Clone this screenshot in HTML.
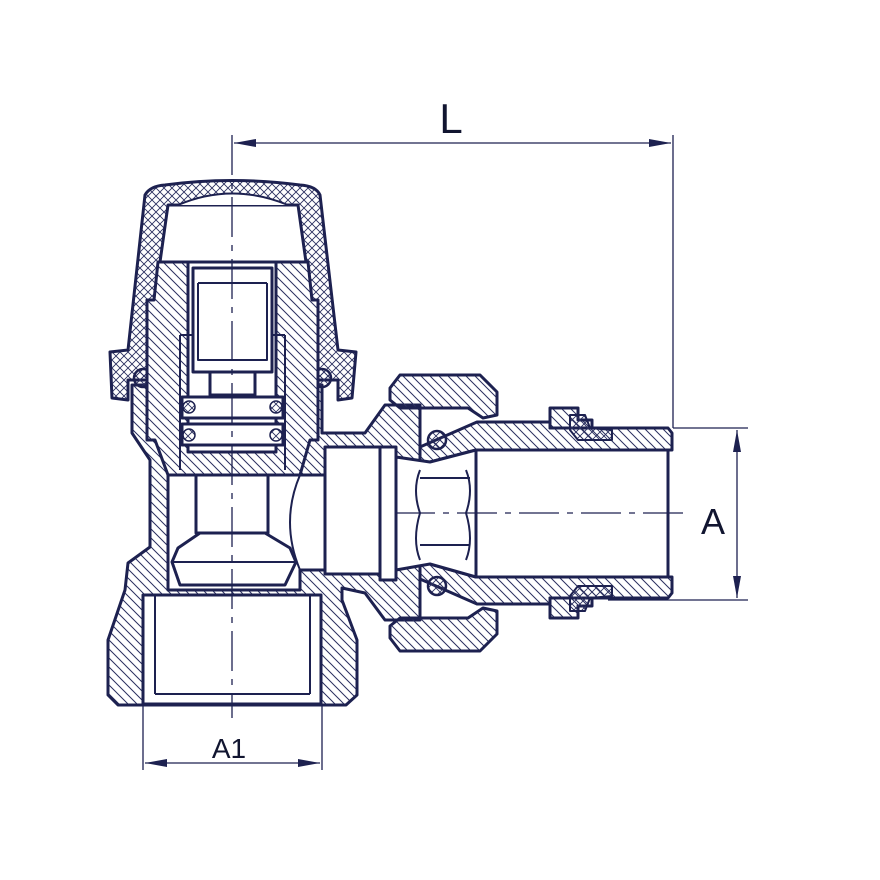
<!DOCTYPE html>
<html><head><meta charset="utf-8"><style>html,body{margin:0;padding:0;background:#fff}svg{display:block}</style></head>
<body>
<svg width="880" height="880" viewBox="0 0 880 880" xmlns="http://www.w3.org/2000/svg">
<defs>
<pattern id="h" width="9" height="9" patternUnits="userSpaceOnUse">
<path d="M-1,-1 L10,10 M-1,8 L1,10 M8,-1 L10,1" stroke="#2b3060" stroke-width="1"/>
</pattern>
<pattern id="x" width="8" height="8" patternUnits="userSpaceOnUse">
<path d="M0,0 L8,8 M8,0 L0,8" stroke="#2b3060" stroke-width="0.9"/>
</pattern>
<marker id="ar" markerWidth="22" markerHeight="8" refX="22" refY="4" orient="auto-start-reverse" markerUnits="userSpaceOnUse">
<path d="M0,0 L22,4 L0,8 Z" fill="#1d2150"/>
</marker>
</defs>
<g stroke="#1d2150" stroke-width="3" stroke-linejoin="round" fill="none">
<path fill="url(#h)" d="M132,385 L132,433 L150,460 L150,547 L128,563 L125,590 L108,640 L108,695 L118,705 L346,705 L357,695 L357,640 L342,600 L342,588 L365,593 L385,620 L420,620 L420,405 L385,405 L365,433 L322,433 L322,385 Z"/>
<path fill="url(#h)" d="M390,388 L400,375 L480,375 L497,392 L497,415 L483,418 L468,408 L400,408 L390,400 Z"/>
<path fill="url(#h)" d="M390,638 L400,651 L480,651 L497,634 L497,611 L483,608 L468,618 L400,618 L390,626 Z"/>
<path fill="url(#h)" d="M420,447 L477,422 L550,422 L550,428 L668,428 L672,433 L672,450 L476,450 L430,462 L420,462 Z"/>
<path fill="url(#h)" d="M420,579 L477,604 L550,604 L550,598 L668,598 L672,593 L672,577 L476,577 L430,564 L420,564 Z"/>
<path fill="url(#h)" d="M550,408 L578,408 L578,420 L592,420 L592,428 L550,428 Z"/>
<path fill="url(#x)" stroke-width="2" d="M570,415 L585,415 L590,428 L612,430 L612,440 L578,440 L570,430 Z"/>
<path fill="url(#h)" d="M550,618 L578,618 L578,606 L592,606 L592,598 L550,598 Z"/>
<path fill="url(#x)" stroke-width="2" d="M570,611 L585,611 L590,598 L612,596 L612,586 L578,586 L570,596 Z"/>
<rect x="143" y="595" width="178" height="109" fill="#fff"/>
<line x1="155" y1="595" x2="155" y2="694" stroke-width="2"/>
<line x1="310" y1="595" x2="310" y2="694" stroke-width="2"/>
<line x1="155" y1="694" x2="310" y2="694" stroke-width="2"/>
<path fill="#fff" d="M168,460 L300,460 L300,475 L325,475 L325,570 L300,570 L300,590 L168,590 Z"/>
<path fill="#fff" stroke-width="2" d="M300,475 Q280,522 300,570"/>
<rect x="325" y="447" width="55" height="127" fill="#fff"/>
<rect x="380" y="447" width="16" height="133" fill="#fff"/>
<path fill="#fff" d="M396,457 L430,462 L476,450 L476,577 L430,564 L396,570 Z"/>
<path stroke-width="2" d="M420,470 Q412,490 420,513 Q412,540 420,560 M466,470 Q474,490 466,513 Q474,540 466,560 M420,478 L470,478 M420,545 L470,545"/>
<rect x="476" y="450" width="192" height="127" fill="#fff"/>
<circle cx="437" cy="440" r="9" fill="url(#x)" stroke-width="2.5"/>
<circle cx="437" cy="586" r="9" fill="url(#x)" stroke-width="2.5"/>
<path fill="#fff" d="M196,455 L268,455 L268,533 L196,533 Z"/>
<path fill="#fff" d="M200,533 L265,533 L290,548 L296,562 L285,585 L180,585 L172,562 L178,548 Z"/>
<line x1="173" y1="562" x2="295" y2="562" stroke-width="2"/>
<path fill="url(#x)" d="M110,352 L128,350 L145,195 Q150,186 165,185 Q232,176 300,185 Q316,186 320,195 L338,350 L356,352 L352,398 L338,400 L338,380 L128,380 L128,400 L112,398 Z"/>
<path fill="#fff" d="M168,205 L298,205 L306,262 L160,262 Z"/>
<path fill="#fff" stroke-width="2" d="M178,205 Q232,182 288,205"/>
<circle cx="143" cy="378" r="9" fill="url(#x)" stroke-width="2.5"/>
<circle cx="322" cy="378" r="9" fill="url(#x)" stroke-width="2.5"/>
<path fill="#fff" stroke="none" d="M158,262 L308,262 L312,300 L318,300 L318,440 L310,440 L300,475 L168,475 L155,440 L147,440 L147,300 L154,300 Z"/>
<path fill="url(#h)" d="M158,262 L308,262 L312,300 L318,300 L318,440 L310,440 L300,475 L168,475 L155,440 L147,440 L147,300 L154,300 Z"/>
<rect x="188" y="262" width="88" height="190" fill="#fff"/>
<path fill="#fff" d="M193,268 L272,268 L272,372 L193,372 Z"/>
<path stroke-width="2" d="M198,283 L267,283 M198,283 L198,360 L267,360 L267,283 M180,335 L180,470 M285,335 L285,470 M180,335 L193,335 M272,335 L285,335"/>
<path fill="#fff" d="M210,372 L255,372 L255,395 L210,395 Z"/>
<rect x="182" y="397" width="101" height="21" fill="#fff"/>
<rect x="182" y="424" width="101" height="21" fill="#fff"/>
<circle cx="189" cy="407" r="6" fill="url(#x)" stroke-width="1.5"/>
<circle cx="276" cy="407" r="6" fill="url(#x)" stroke-width="1.5"/>
<circle cx="189" cy="435" r="6" fill="url(#x)" stroke-width="1.5"/>
<circle cx="276" cy="435" r="6" fill="url(#x)" stroke-width="1.5"/>
</g>
<g stroke="#1d2150" stroke-width="1.3" fill="none">
<line x1="232" y1="135" x2="232" y2="718" stroke-dasharray="40,8,6,8"/>
<line x1="395" y1="513" x2="690" y2="513" stroke-dasharray="40,8,6,8"/>
<line x1="673" y1="135" x2="673" y2="428"/>
<line x1="234" y1="143" x2="671" y2="143" marker-start="url(#ar)" marker-end="url(#ar)"/>
<line x1="673" y1="428" x2="748" y2="428"/>
<line x1="608" y1="600" x2="748" y2="600"/>
<line x1="737" y1="430" x2="737" y2="598" marker-start="url(#ar)" marker-end="url(#ar)"/>
<line x1="143" y1="705" x2="143" y2="770"/>
<line x1="322" y1="705" x2="322" y2="770"/>
<line x1="145" y1="763" x2="320" y2="763" marker-start="url(#ar)" marker-end="url(#ar)"/>
</g>
<g fill="#111530" font-family="Liberation Sans, sans-serif">
<text x="451" y="133" font-size="42" text-anchor="middle">L</text>
<text x="713" y="534" font-size="36" text-anchor="middle">A</text>
<text x="229" y="758" font-size="28" text-anchor="middle">A1</text>
</g>
</svg>
</body></html>
